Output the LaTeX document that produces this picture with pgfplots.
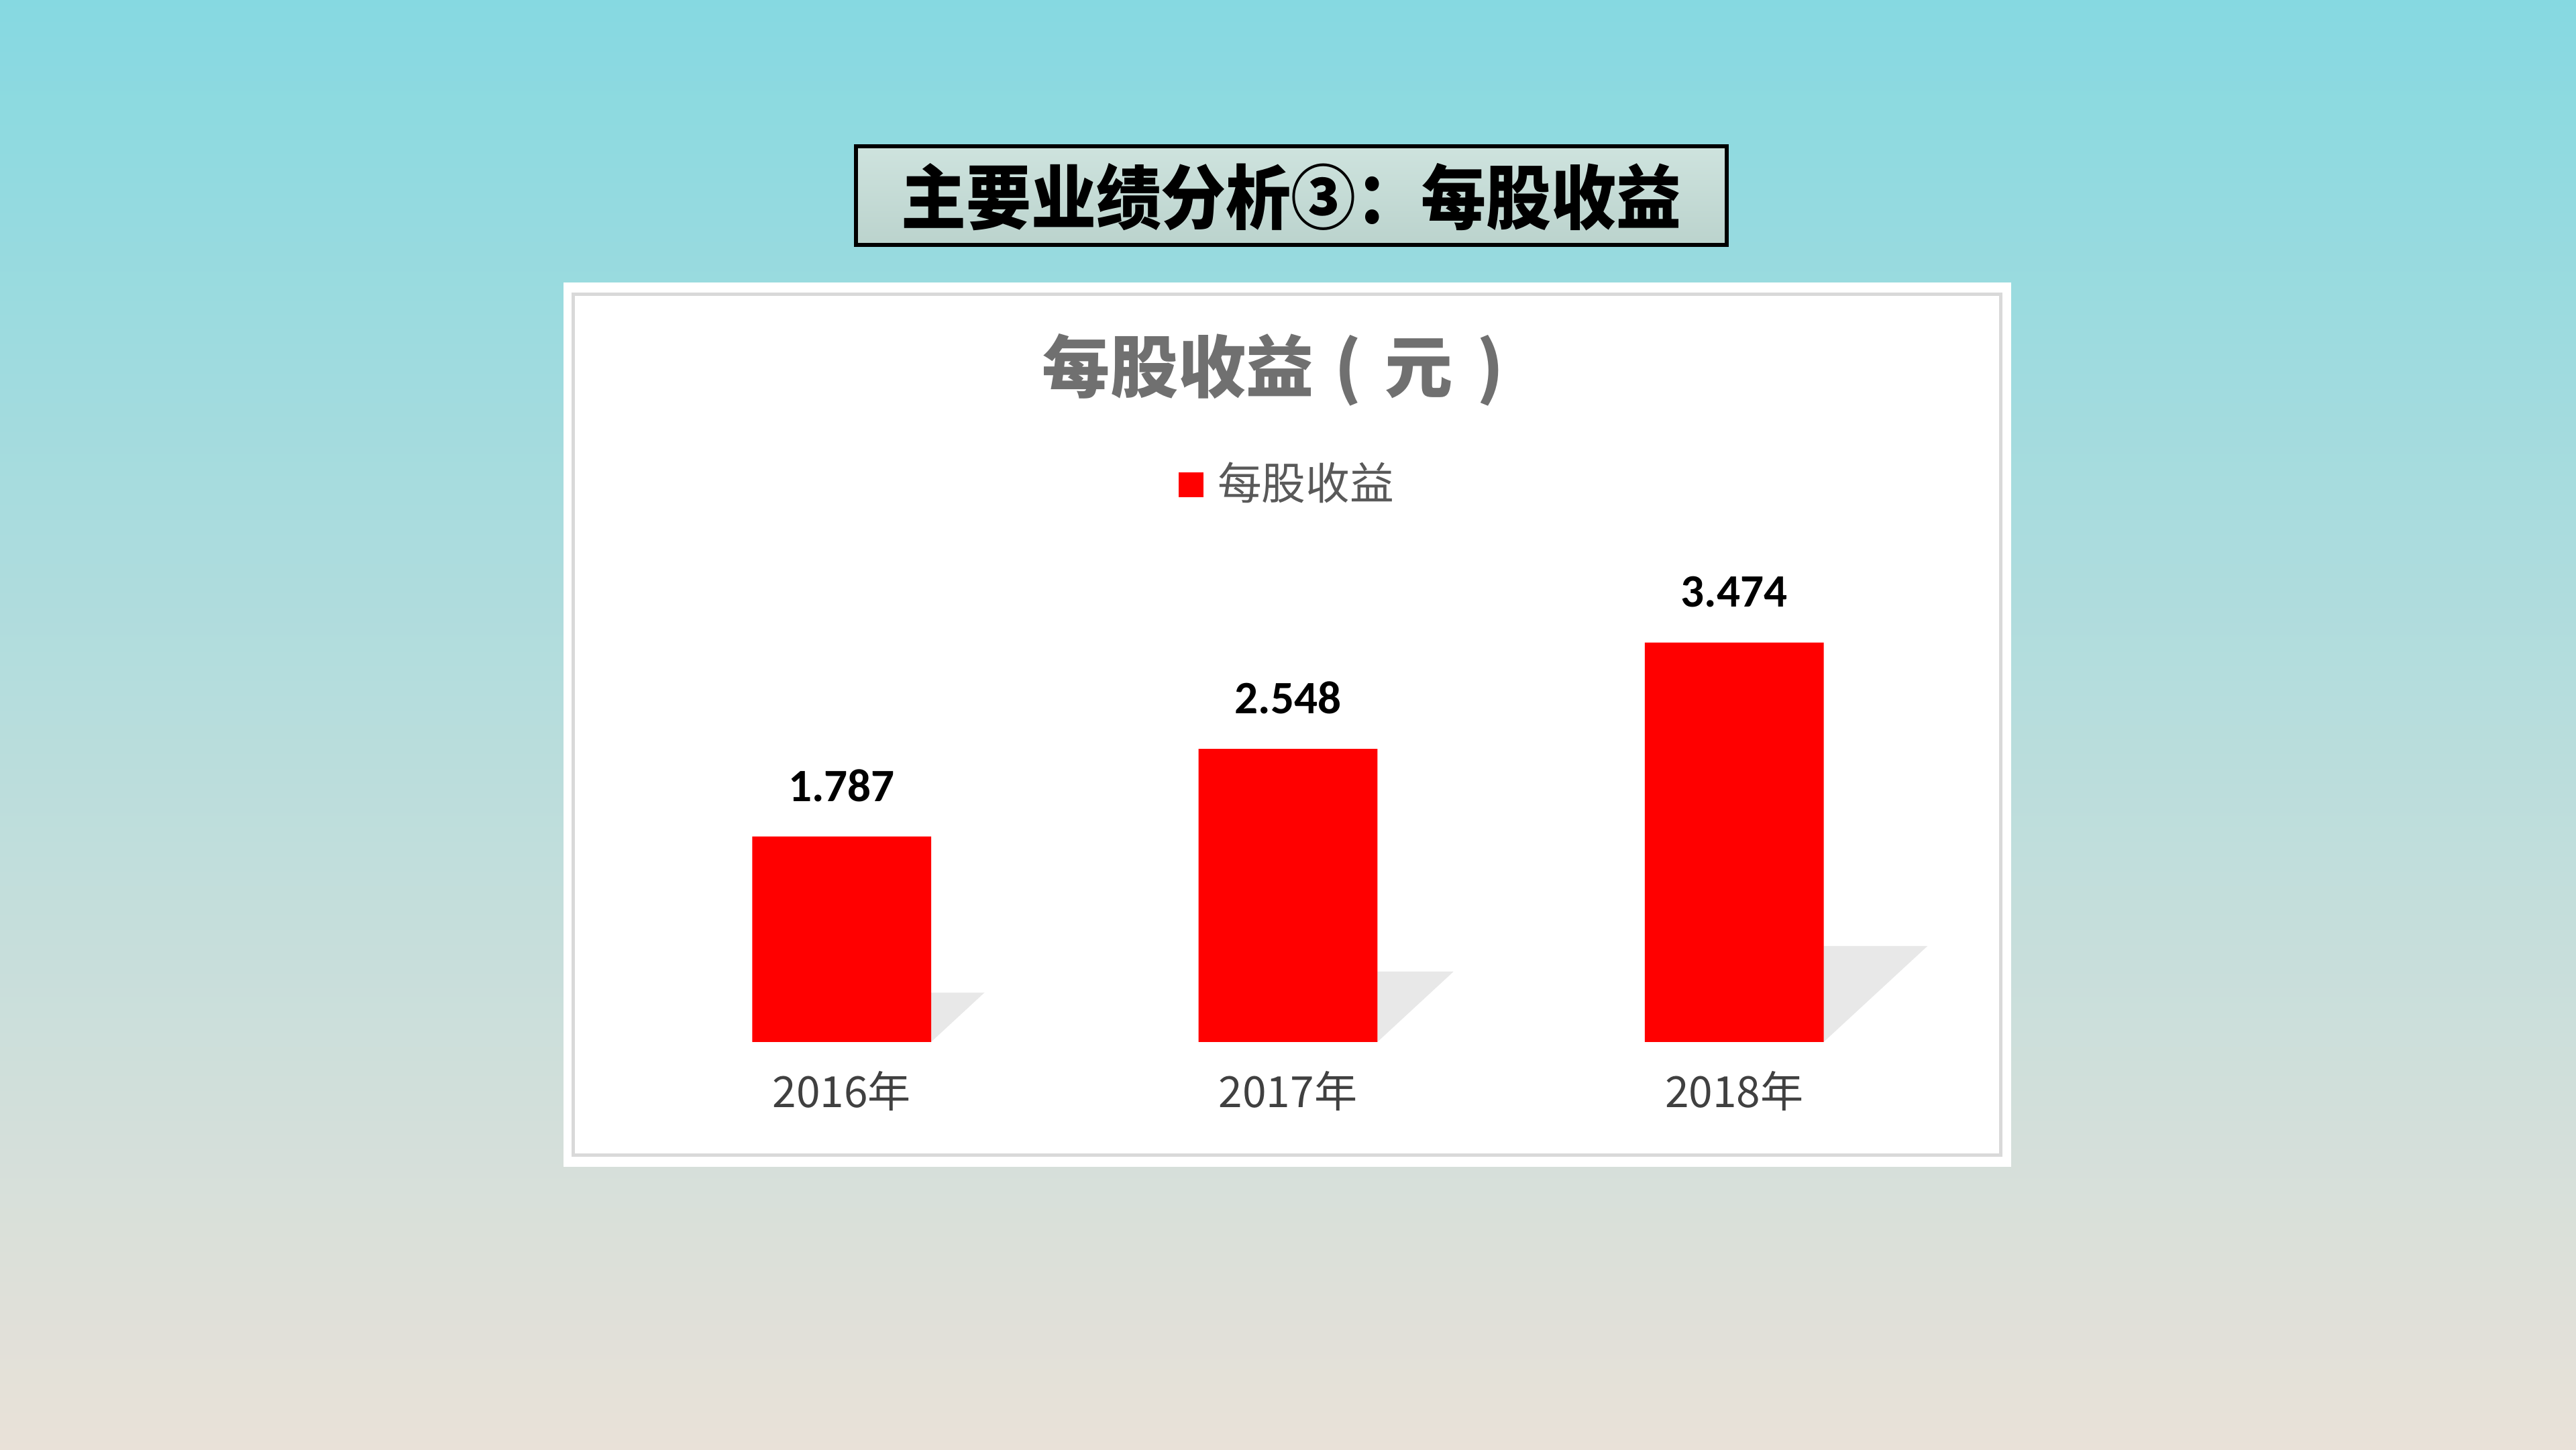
\documentclass[border=0pt]{standalone}
\usepackage{pgfplots}
\pgfplotsset{compat=1.18}
\usepackage{fontspec}
\setmainfont{Noto Sans CJK SC}
\newfontfamily\numfont{Carlito}
\definecolor{BgTop}{RGB}{134,217,225}
\definecolor{BgBot}{RGB}{233,225,216}
\definecolor{BoxTop}{RGB}{206,227,222}
\definecolor{BoxBot}{RGB}{187,211,205}
\definecolor{TitleGray}{RGB}{112,112,112}
\definecolor{LegGray}{RGB}{89,89,89}
\definecolor{TickGray}{RGB}{64,64,64}
\definecolor{Shadow}{RGB}{232,232,232}

\begin{document}
\begin{tikzpicture}[x=0.0102041cm, y=0.0102041cm]
    % background slide
    \shade[top color=BgTop, bottom color=BgBot] (0,0) rectangle (1568,882);

    % slide title box
    \shade[top color=BoxTop, bottom color=BoxBot, draw=black, line width=0.8pt]
        (521,733) rectangle (1051,793);
    \node[font=\bfseries\fontsize{11.5}{13}\selectfont, text=black, yscale=1.08]
        at (786,762) {主要业绩分析③：每股收益};

    % white chart panel
    \fill[white] (343,172) rectangle (1224,710);
    \draw[gray!30, line width=0.6pt] (349,179) rectangle (1218,703);

    % chart title
    \node[font=\bfseries\fontsize{12}{14}\selectfont, text=TitleGray]
        at (775,657) {每股收益\hspace{0.3em}(\hspace{0.35em}元\hspace{0.35em})};

    \begin{axis}[
        at={(3.843cm,2.531cm)}, anchor=south west,
        scale only axis,
        width=8.319cm, height=2.857cm,
        xmin=-0.5, xmax=2.5,
        ymin=0, ymax=4,
        axis line style={draw=none},
        major tick length=0pt,
        ytick=\empty,
        xtick={0,1,2},
        xticklabels={2016年,2017年,2018年},
        xticklabel style={font=\fontsize{7.6}{9}\selectfont, text=TickGray,
            anchor=center, yshift=-0.306cm},
        clip=false,
        ybar,
        bar width=1.112cm,
        nodes near coords={\pgfmathprintnumber[fixed,fixed zerofill,precision=3,assume math mode=true]{\pgfplotspointmeta}},
        nodes near coords style={font=\numfont\bfseries\fontsize{8.2}{10}\selectfont,
            text=black, anchor=center, yshift=0.316cm},
        legend style={at={(0.503,1.211)}, anchor=center, draw=none, fill=none,
            font=\fontsize{7.8}{9}\selectfont, text=LegGray,
            /tikz/every odd column/.append style={column sep=0.02cm}},
        legend image code/.code={\fill[red] (0cm,-0.077cm) rectangle (0.153cm,0.077cm);},
    ]
        % soft shadows behind the bars
        \fill[Shadow] (axis cs:0.2005,0) -- (axis cs:0.2005,0.429) -- (axis cs:0.320,0.429) -- cycle;
        \fill[Shadow] (axis cs:1.2005,0) -- (axis cs:1.2005,0.612) -- (axis cs:1.371,0.612) -- cycle;
        \fill[Shadow] (axis cs:2.2005,0) -- (axis cs:2.2005,0.834) -- (axis cs:2.433,0.834) -- cycle;

        \addplot[fill=red, draw=none] coordinates {
            (0,1.787)
            (1,2.548)
            (2,3.474)
        };
        \addlegendentry{每股收益}
    \end{axis}
\end{tikzpicture}
\end{document}
